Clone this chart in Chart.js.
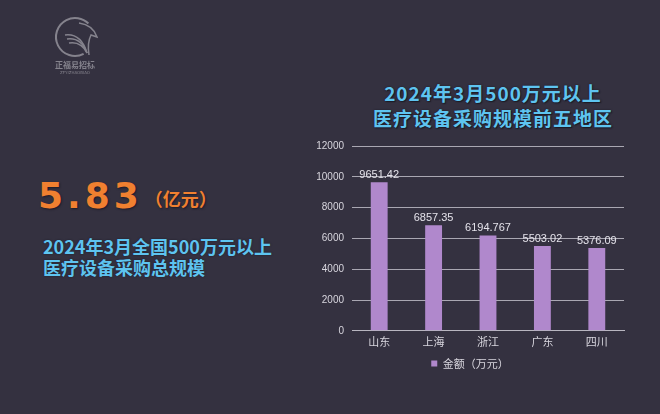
<!DOCTYPE html>
<html>
<head>
<meta charset="utf-8">
<script src="https://cdn.jsdelivr.net/npm/chart.js@4"></script>
<style>
  html, body { margin: 0; padding: 0; }
  body { width: 660px; height: 414px; background: #343140; position: relative; overflow: hidden;
         font-family: "Noto Sans CJK SC", "DejaVu Sans", sans-serif; }
  .title { position: absolute; left: 300px; width: 386px; text-align: center; color: #5ec4f0;
           font-weight: bold; font-size: 19px; letter-spacing: 1px; line-height: 25px; top: 80px;
           text-shadow: 0 0 2px #1d1b26, 1px 1px 1px #1d1b26; }
  .big { position: absolute; left: 38px; top: 175px; color: #f08030; font-weight: bold;
         font-family: "DejaVu Sans", sans-serif; font-size: 36px; letter-spacing: 4px;
         text-shadow: 1px 1px 2px #1d1b26; }
  .unit { font-family: "Noto Sans CJK SC", sans-serif; font-size: 18px; letter-spacing: 0;
          margin-left: 2px; position: relative; top: -2px; }
  .sub { position: absolute; left: 43px; top: 236px; color: #5ec4f0; font-weight: bold;
         font-size: 18px; line-height: 21px; text-shadow: 0 0 2px #1d1b26; }
  #wrap { position: absolute; left: 300px; top: 132px; width: 340px; height: 247px; }
  #logo { position: absolute; left: 35px; top: 13px; }
</style>
</head>
<body>
<canvas id="logo" width="80" height="66"></canvas>
<div class="title">2024年3月500万元以上<br>医疗设备采购规模前五地区</div>
<div class="big">5.83<span class="unit">（亿元）</span></div>
<div class="sub">2024年3月全国500万元以上<br>医疗设备采购总规模</div>
<div id="wrap"><canvas id="Chart0"></canvas></div>
<script>
const regions = ['山东', '上海', '浙江', '广东', '四川'];
const amounts = [9651.42, 6857.35, 6194.767, 5503.02, 5376.09];
const seriesName = '金额（万元）';
const yTicks = [0, 2000, 4000, 6000, 8000, 10000, 12000];

// simple grey logo
const lg = document.getElementById('logo').getContext('2d');
lg.strokeStyle = '#85838d';
lg.fillStyle = '#85838d';
lg.lineWidth = 2;
lg.beginPath();
lg.arc(40, 24, 19, Math.PI * 0.35, Math.PI * 1.75);
lg.stroke();
lg.lineWidth = 1.5;
for (let k = 0; k < 3; k++) {
    lg.beginPath();
    lg.moveTo(30 + k * 2, 22 + k * 4);
    lg.quadraticCurveTo(46, 20 + k * 4, 52, 40);
    lg.stroke();
}
lg.beginPath();
lg.moveTo(44, 10);
lg.quadraticCurveTo(58, 12, 62, 24);
lg.lineTo(56, 22);
lg.quadraticCurveTo(52, 30, 54, 42);
lg.stroke();
lg.font = 'bold 8px "Noto Sans CJK SC"';
lg.textAlign = 'center';
lg.fillText('正福易招标', 40, 55);
lg.font = '4px "DejaVu Sans"';
lg.fillText('ZFYIZHAOBIAO', 40, 61);

const valueLabels = {
    id: 'valueLabels',
    afterDatasetsDraw(chart) {
        const ctx = chart.ctx;
        const meta = chart.getDatasetMeta(0);
        ctx.save();
        ctx.fillStyle = '#e4e2ea';
        ctx.font = '11px "Liberation Sans", sans-serif';
        ctx.textAlign = 'center';
        ctx.textBaseline = 'bottom';
        meta.data.forEach((bar, i) => {
            ctx.fillText(String(amounts[i]), bar.x, bar.y - 2);
        });
        ctx.restore();
    }
};

const chart = new Chart(document.getElementById('Chart0').getContext('2d'), {
    type: 'bar',
    data: {
        labels: regions,
        datasets: [{
            label: seriesName,
            data: amounts,
            backgroundColor: '#b088cc',
            barPercentage: 0.31,
            categoryPercentage: 1
        }]
    },
    options: {
        responsive: true,
        maintainAspectRatio: false,
        animation: false,
        layout: { padding: { top: 8, right: 16, left: 16, bottom: 0 } },
        scales: {
            x: {
                grid: { display: false, drawTicks: false },
                border: { color: '#b8b6c0' },
                ticks: { color: '#d8d6de', font: { size: 11, family: 'Noto Sans CJK SC' }, padding: 4 }
            },
            y: {
                min: 0,
                max: 12000,
                afterBuildTicks(axis) { axis.ticks = yTicks.map(v => ({ value: v })); },
                afterFit(axis) { axis.width = 36; },
                grid: { color: '#a9a7b2', lineWidth: 1, drawTicks: false },
                border: { display: false },
                ticks: {
                    color: '#d8d6de',
                    font: { size: 10, family: 'Liberation Sans' },
                    padding: 8,
                    callback: v => String(v)
                }
            }
        },
        plugins: {
            legend: {
                position: 'bottom',
                labels: {
                    color: '#d8d6de',
                    boxWidth: 6,
                    boxHeight: 6,
                    padding: 6,
                    font: { size: 11, family: 'Noto Sans CJK SC' }
                }
            },
            tooltip: { enabled: false }
        }
    },
    plugins: [valueLabels]
});
</script>
</body>
</html>
